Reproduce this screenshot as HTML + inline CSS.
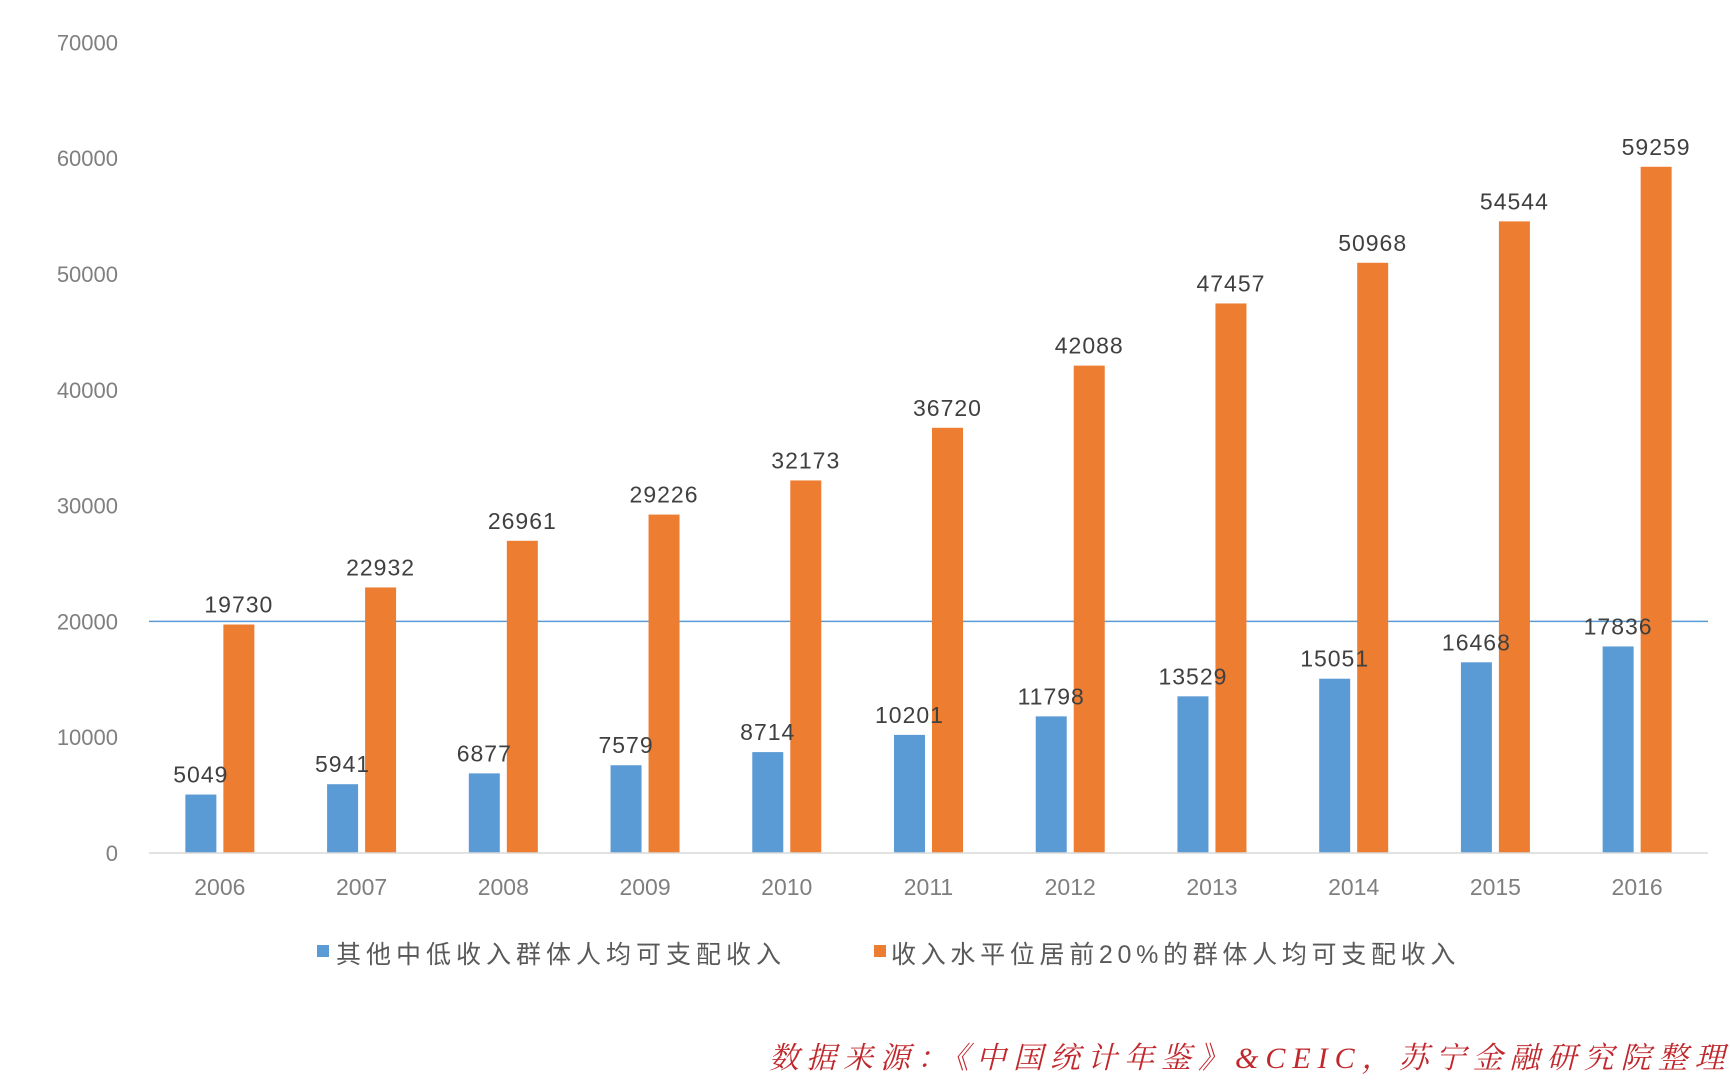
<!DOCTYPE html>
<html><head><meta charset="utf-8"><style>
html,body{margin:0;padding:0;background:#fff;}
svg{display:block;}
</style></head><body>
<svg id="chart" width="1730" height="1080" xmlns="http://www.w3.org/2000/svg" font-family="'Liberation Sans','Noto Sans CJK SC',sans-serif">
<g id="yaxis"></g>
<g id="plot"></g>
<g id="xaxis"></g>
<g>
  <rect x="317" y="945" width="12" height="12" fill="#5b9bd5"/>
  <text x="336" y="963" font-size="25" letter-spacing="5" fill="#595959">其他中低收入群体人均可支配收入</text>
  <rect x="874" y="945" width="12" height="12" fill="#ed7d31"/>
  <text x="891" y="963" font-size="25" letter-spacing="4.7" fill="#595959">收入水平位居前20%的群体人均可支配收入</text>
</g>
<text x="769" y="1068" font-size="30" letter-spacing="7" font-style="italic" fill="#c0282d" font-family="'Liberation Serif','Noto Serif CJK SC',serif">数据来源：《中国统计年鉴》&amp;CEIC，苏宁金融研究院整理</text>
</svg>
<script>
const categories = ["2006","2007","2008","2009","2010","2011","2012","2013","2014","2015","2016"];
const lowIncome = [5049,5941,6877,7579,8714,10201,11798,13529,15051,16468,17836];
const top20 = [19730,22932,26961,29226,32173,36720,42088,47457,50968,54544,59259];
const yTicks = [0,10000,20000,30000,40000,50000,60000,70000];
const refLineValue = 20000;

const NS = "http://www.w3.org/2000/svg";
const X0 = 149, X1 = 1708, Y0 = 853, PER = 115.8/10000;
const band = (X1 - X0) / categories.length;
const y = v => Y0 - v * PER;
const xc = i => X0 + band * (i + 0.5);
function mk(tag, attrs, parent){
  const e = document.createElementNS(NS, tag);
  for (const k in attrs) e.setAttribute(k, attrs[k]);
  parent.appendChild(e); return e;
}
const yg = document.getElementById('yaxis'), pg = document.getElementById('plot'), xg = document.getElementById('xaxis');
yTicks.forEach(t => {
  const tx = mk('text', {x:118, y:y(t)+8, 'text-anchor':'end', 'font-size':22, fill:'#7f7f7f'}, yg);
  
  
  tx.textContent = t;
});
const ref = mk('line', {x1:X0, x2:X1, y1:y(refLineValue), y2:y(refLineValue), stroke:'#5b9bd5', 'stroke-width':1.5}, pg);


const BW = 31, GAP = 7;
categories.forEach((c, i) => {
  const cx = xc(i);
  const bx = cx - GAP/2 - BW, ox = cx + GAP/2;
  const b = mk('rect', {x:bx, y:y(lowIncome[i]), width:BW, height:Y0 - y(lowIncome[i]), fill:'#5b9bd5'}, pg);
  
  
  const o = mk('rect', {x:ox, y:y(top20[i]), width:BW, height:Y0 - y(top20[i]), fill:'#ed7d31'}, pg);
  
  
  const bl = mk('text', {x:bx + BW/2, y:y(lowIncome[i]) - 12, 'text-anchor':'middle', 'font-size':23, 'letter-spacing':1, fill:'#404040'}, pg);
  
  
  bl.textContent = lowIncome[i];
  const ol = mk('text', {x:ox + BW/2, y:y(top20[i]) - 12, 'text-anchor':'middle', 'font-size':23, 'letter-spacing':1, fill:'#404040'}, pg);
  
  
  ol.textContent = top20[i];
  const xl = mk('text', {x:cx, y:895, 'text-anchor':'middle', 'font-size':23, fill:'#7f7f7f'}, xg);
  
  
  xl.textContent = c;
});
const ax = mk('line', {x1:X0, x2:X1, y1:Y0, y2:Y0, stroke:'#d9d9d9', 'stroke-width':1.5}, xg);


</script>
</body></html>
